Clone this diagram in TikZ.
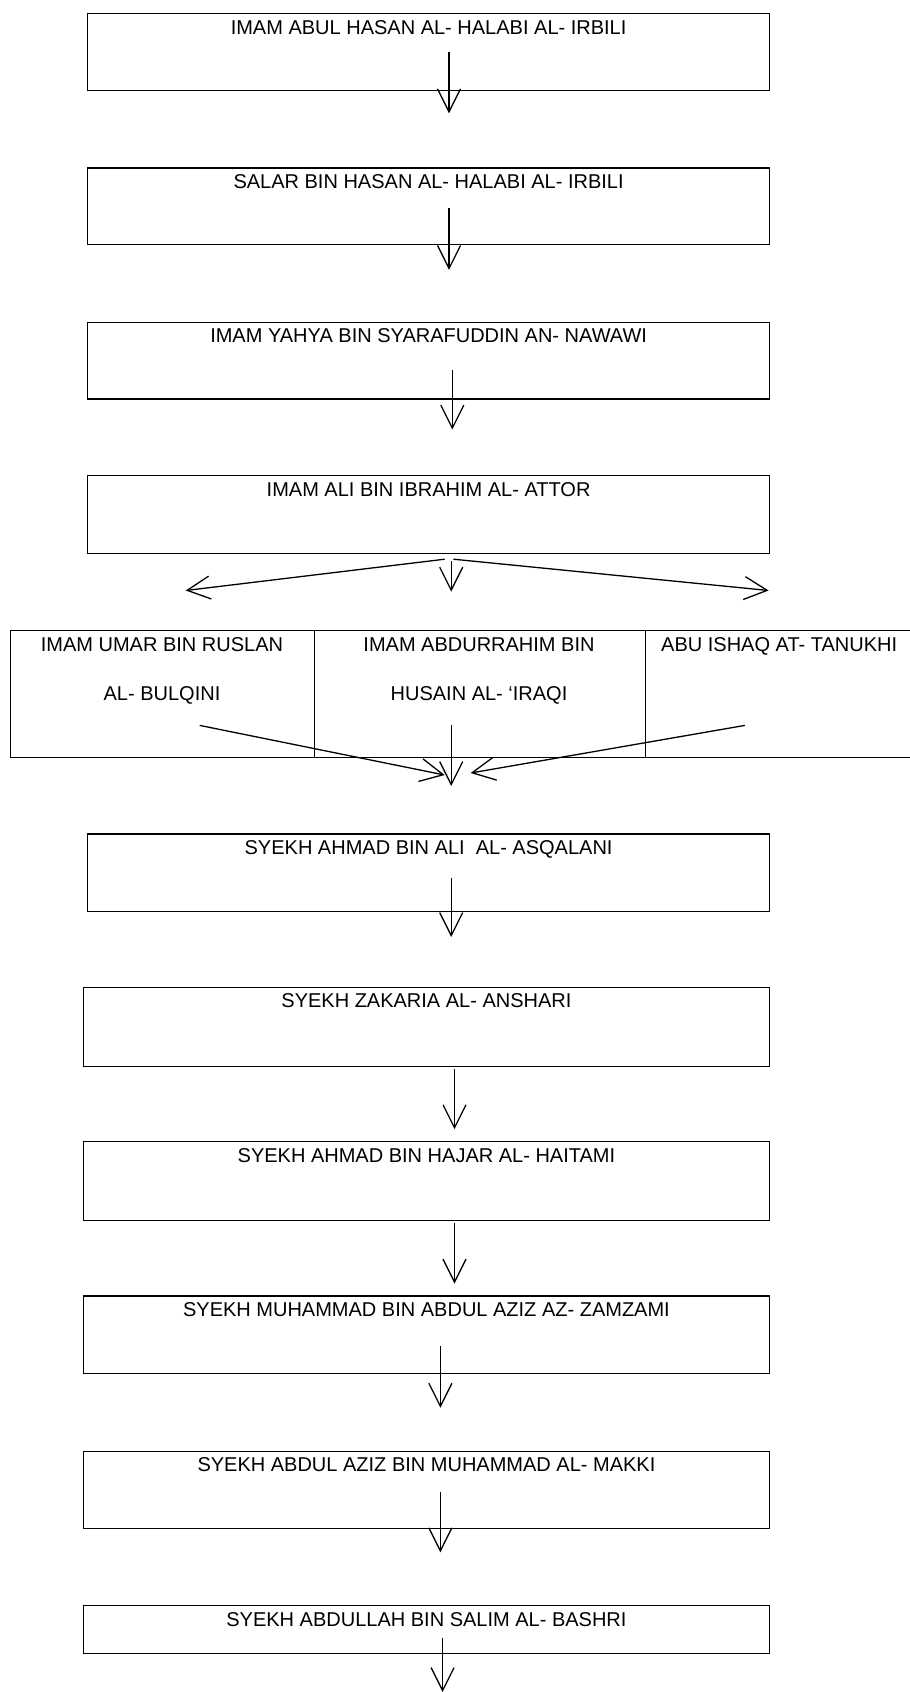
\documentclass[tikz,border=0pt]{standalone}
\usepackage{fontspec}
\setmainfont{Liberation Sans}
\usetikzlibrary{arrows.meta}
\begin{document}
\begin{tikzpicture}[x=1pt,y=-1pt,
  box/.style={draw,line width=1.2pt,anchor=north west,inner sep=0pt},
  lbl/.style={anchor=north,inner sep=0pt,font=\fontsize{20}{24}\selectfont},
  arr/.style={line width=1.3pt,-{Straight Barb[length=23pt,width=23pt,line width=1.3pt]}}]
\useasboundingbox (0,0) rectangle (910,1692);
% main boxes
\node[box,minimum width=682,minimum height=76.6] (b1) at (87,13) {};
\node[lbl] (t1) at ([yshift=-7pt]b1.north) {IMAM ABUL HASAN AL- HALABI AL- IRBILI};
\node[box,minimum width=682,minimum height=76.7] (b2) at (87,167.3) {};
\node[lbl] (t2) at ([yshift=-7pt]b2.north) {SALAR BIN HASAN AL- HALABI AL- IRBILI};
\node[box,minimum width=682,minimum height=76.6] (b3) at (87,321.7) {};
\node[lbl] (t3) at ([yshift=-7pt]b3.north) {IMAM YAHYA BIN SYARAFUDDIN AN- NAWAWI};
\node[box,minimum width=682,minimum height=77.7] (b4) at (87,475) {};
\node[lbl] (t4) at ([yshift=-7pt]b4.north) {IMAM ALI BIN IBRAHIM AL- ATTOR};
% row of three
\node[box,minimum width=304.3,minimum height=126.7] (c1) at (9.7,630) {};
\node[box,minimum width=330.5,minimum height=126.7] (c2) at (314,630) {};
\node[box,minimum width=300,minimum height=126.7] (c3) at (644.5,630) {};
\node[lbl] (c1a) at (162,637.5) {IMAM UMAR BIN RUSLAN};
\node[lbl] (c1b) at (162,686) {AL- BULQINI};
\node[lbl] (c2a) at (479,637.5) {IMAM ABDURRAHIM BIN};
\node[lbl] (c2b) at (479,686) {HUSAIN AL- ‘IRAQI};
\node[lbl,anchor=north west] (c3a) at (661,637.5) {ABU ISHAQ AT- TANUKHI};
% lower boxes
\node[box,minimum width=682,minimum height=77.6] (b6) at (87,833.4) {};
\node[lbl] (t6) at ([yshift=-7pt]b6.north) {SYEKH AHMAD BIN ALI\ \ AL- ASQALANI};
\node[box,minimum width=685.5,minimum height=78.8] (b7) at (83.1,986.7) {};
\node[lbl] (t7) at ([yshift=-7pt]b7.north) {SYEKH ZAKARIA AL- ANSHARI};
\node[box,minimum width=685.5,minimum height=78.8] (b8) at (83.1,1141) {};
\node[lbl] (t8) at ([yshift=-7pt]b8.north) {SYEKH AHMAD BIN HAJAR AL- HAITAMI};
\node[box,minimum width=685.5,minimum height=77.6] (b9) at (83.1,1295.4) {};
\node[lbl] (t9) at ([yshift=-7pt]b9.north) {SYEKH MUHAMMAD BIN ABDUL AZIZ AZ- ZAMZAMI};
\node[box,minimum width=685.5,minimum height=76.7] (b10) at (83.1,1450.8) {};
\node[lbl] (t10) at ([yshift=-7pt]b10.north) {SYEKH ABDUL AZIZ BIN MUHAMMAD AL- MAKKI};
\node[box,minimum width=685.5,minimum height=47.5] (b11) at (83.1,1605.2) {};
\node[lbl] (t11) at ([yshift=-7pt]b11.north) {SYEKH ABDULLAH BIN SALIM AL- BASHRI};
% arrow end points
\coordinate (a1s) at (449,51.8);   \coordinate (a1e) at (449,113.3);
\coordinate (a2s) at (449,208.3);  \coordinate (a2e) at (449,269.9);
\coordinate (a3s) at (452.3,370.3); \coordinate (a3e) at (452.3,429.6);
\coordinate (a4ls) at (444.7,559.2); \coordinate (a4le) at (185.7,590.5);
\coordinate (a4rs) at (453.4,559.2); \coordinate (a4re) at (768.6,590.5);
\coordinate (a4ms) at (451.2,561.3); \coordinate (a4me) at (451.2,591.6);
\coordinate (r1s) at (199.7,725.4); \coordinate (r1e) at (444.7,775);
\coordinate (r2s) at (451.2,725.4); \coordinate (r2e) at (451.2,786);
\coordinate (r3s) at (744.9,725.4); \coordinate (r3e) at (470.7,773);
\coordinate (a6s) at (451.2,877.6); \coordinate (a6e) at (451.2,937);
\coordinate (a7s) at (454.5,1068.7); \coordinate (a7e) at (454.5,1129.2);
\coordinate (a8s) at (454.5,1223); \coordinate (a8e) at (454.5,1283.5);
\coordinate (a9s) at (440.4,1346); \coordinate (a9e) at (440.4,1407.7);
\coordinate (a10s) at (440.4,1491.8); \coordinate (a10e) at (440.4,1552.3);
\coordinate (a11s) at (442.6,1637.6); \coordinate (a11e) at (442.6,1692);
\foreach \s/\e in {a1s/a1e,a2s/a2e,a3s/a3e,a4ls/a4le,a4rs/a4re,a4ms/a4me,r1s/r1e,r2s/r2e,r3s/r3e,a6s/a6e,a7s/a7e,a8s/a8e,a9s/a9e,a10s/a10e,a11s/a11e}
  \draw[arr] (\s) -- (\e);
\end{tikzpicture}
\end{document}
